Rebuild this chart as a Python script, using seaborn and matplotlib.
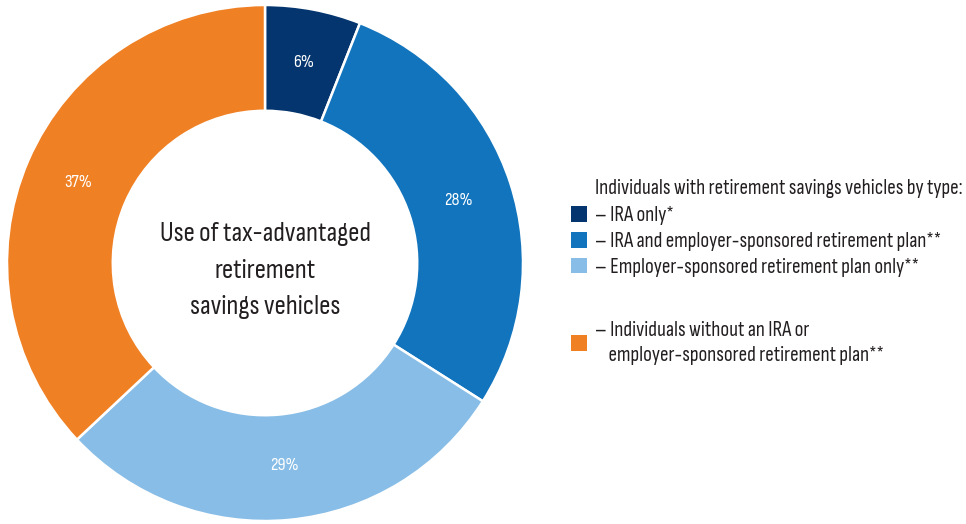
import matplotlib
matplotlib.use("Agg")
import matplotlib.pyplot as plt
import matplotlib.patches as mpatches
import seaborn as sns

# Dados do gráfico
categorias = ["– IRA only*",
              "– IRA and employer-sponsored retirement plan**",
              "– Employer-sponsored retirement plan only**",
              "– Individuals without an IRA or\n    employer-sponsored retirement plan**"]
valores = [6, 28, 29, 37]
cores = ["#04356e", "#1174bd", "#87bde6", "#f08024"]
titulo_centro = "Use of tax-advantaged\nretirement\nsavings vehicles"
titulo_legenda = "Individuals with retirement savings vehicles by type:"

sns.set_theme(style="white")
plt.rcParams["font.family"] = ["Sofia Sans Condensed", "Roboto Condensed", "DejaVu Sans"]
cor_texto = "#231f20"

fig = plt.figure(figsize=(9.66, 5.24), dpi=100)
ax = fig.add_axes([7 / 966, 3 / 524, 516 / 966, 516 / 524])

# Donut
wedges, textos, pcts = ax.pie(valores, colors=cores, startangle=90, counterclock=False,
                              autopct=lambda p: f"{p:.0f}%", pctdistance=0.79,
                              wedgeprops=dict(width=0.41, edgecolor="white", linewidth=1.8),
                              textprops=dict(color="white", fontsize=13))
ax.set_aspect("equal")
ax.set_xlim(-1, 1)
ax.set_ylim(-1, 1)

ax.text(0, -0.03, titulo_centro, ha="center", va="center", fontsize=20,
        color=cor_texto, linespacing=1.65)

# Legenda com espaço em branco entre o terceiro e o quarto item
handles = [mpatches.Patch(facecolor=c, edgecolor="none") for c in cores]
vazio = mpatches.Patch(facecolor="none", edgecolor="none")
handles = handles[:3] + [vazio] + handles[3:]
labels = categorias[:3] + [" \n "] + categorias[3:]

fig.text(595 / 966, 1 - 188 / 524, titulo_legenda, ha="left", va="center",
         fontsize=15.2, color=cor_texto)
leg = fig.legend(handles, labels, loc="upper left", bbox_to_anchor=(571 / 966, 1 - 206 / 524),
                 frameon=False, fontsize=15.2, handlelength=0.76, handleheight=0.76,
                 handletextpad=0.38, labelspacing=0.32, borderaxespad=0, borderpad=0)
for t in leg.get_texts():
    t.set_color(cor_texto)
leg.get_texts()[3].set_fontsize(11)
leg.get_texts()[4].set_linespacing(1.4)

plt.savefig("out.png", dpi=100)
